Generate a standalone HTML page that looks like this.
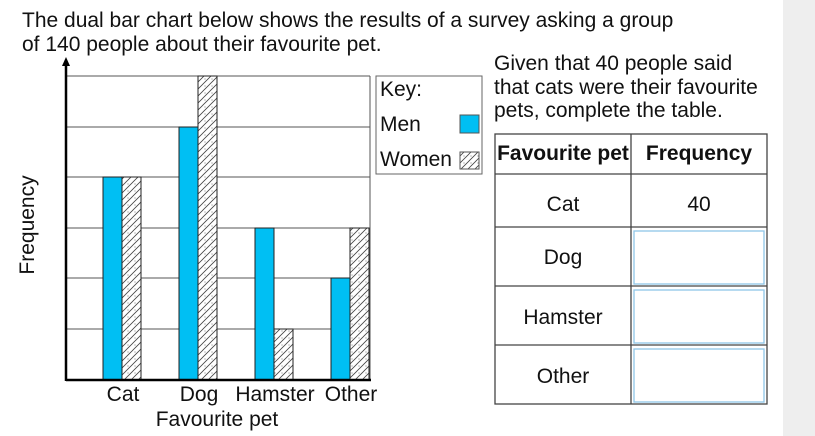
<!DOCTYPE html>
<html><head><meta charset="utf-8"><style>
html,body{margin:0;padding:0;background:#fff;}
svg{display:block;font-family:"Liberation Sans",Arial,sans-serif;}
</style></head><body>
<svg width="815" height="436" viewBox="0 0 815 436" xmlns="http://www.w3.org/2000/svg">
<defs>
<pattern id="h" width="7" height="7" patternUnits="userSpaceOnUse">
<rect width="7" height="7" fill="#fff"/>
<path d="M-1,8 L8,-1 M-1,1 L1,-1 M6,8 L8,6" stroke="#444" stroke-width="0.8"/>
<circle cx="2" cy="2" r="0.5" fill="#555"/>
</pattern>
</defs>
<rect x="783" y="0" width="32" height="436" fill="#eeeeee"/>
<text x="22" y="27" font-size="21" fill="#111">The dual bar chart below shows the results of a survey asking a group</text>
<text x="22" y="51" font-size="21" fill="#111">of 140 people about their favourite pet.</text>
<g stroke="#555" stroke-width="1">
<line x1="66" y1="76" x2="370" y2="76"/>
<line x1="66" y1="127" x2="370" y2="127"/>
<line x1="66" y1="177" x2="370" y2="177"/>
<line x1="66" y1="228" x2="370" y2="228"/>
<line x1="66" y1="278" x2="370" y2="278"/>
<line x1="66" y1="329" x2="370" y2="329"/>
<line x1="370" y1="76" x2="370" y2="380"/>
</g>
<g stroke="#222" stroke-width="1">
<rect x="103" y="177" width="19" height="203" fill="#00bff3"/>
<rect x="122" y="177" width="19" height="203" fill="url(#h)"/>
<rect x="179" y="127" width="19" height="253" fill="#00bff3"/>
<rect x="198" y="76" width="19" height="304" fill="url(#h)"/>
<rect x="255" y="228" width="19" height="152" fill="#00bff3"/>
<rect x="274" y="329" width="19" height="51" fill="url(#h)"/>
<rect x="331" y="278" width="19" height="102" fill="#00bff3"/>
<rect x="350" y="228" width="19" height="152" fill="url(#h)"/>
</g>
<line x1="66" y1="380" x2="371" y2="380" stroke="#000" stroke-width="2.5"/>
<line x1="66" y1="64" x2="66" y2="381" stroke="#000" stroke-width="2.5"/>
<polygon points="66,57 62,66 70,66" fill="#000"/>
<g font-size="21" fill="#111" text-anchor="middle">
<text x="123" y="401">Cat</text>
<text x="199" y="401">Dog</text>
<text x="275" y="401">Hamster</text>
<text x="351" y="401">Other</text>
<text x="217" y="426">Favourite pet</text>
<text transform="translate(34,225) rotate(-90)">Frequency</text>
</g>
<rect x="376" y="76" width="106" height="98" fill="#fff" stroke="#666"/>
<g font-size="21" fill="#111">
<text x="380" y="96">Key:</text>
<text x="380" y="131">Men</text>
<text x="380" y="166">Women</text>
</g>
<rect x="460" y="115" width="19" height="18" fill="#00bff3" stroke="#555"/>
<rect x="460" y="152" width="19" height="17" fill="url(#h)" stroke="#555"/>
<g font-size="21" fill="#111">
<text x="494" y="70">Given that 40 people said</text>
<text x="494" y="94">that cats were their favourite</text>
<text x="494" y="117">pets, complete the table.</text>
</g>
<g stroke="#444" stroke-width="1.3" fill="none">
<rect x="495" y="134" width="272" height="270"/>
<line x1="631" y1="134" x2="631" y2="404"/>
<line x1="495" y1="174" x2="767" y2="174"/>
<line x1="495" y1="227" x2="767" y2="227"/>
<line x1="495" y1="286" x2="767" y2="286"/>
<line x1="495" y1="345" x2="767" y2="345"/>
</g>
<g stroke="#8fc6e8" stroke-width="1.3" fill="#fff">
<rect x="634" y="231" width="130" height="53"/>
<rect x="634" y="290" width="130" height="53"/>
<rect x="634" y="349" width="130" height="53"/>
</g>
<g font-size="21" fill="#111" text-anchor="middle">
<text x="563" y="160" font-weight="bold">Favourite pet</text>
<text x="699" y="160" font-weight="bold">Frequency</text>
<text x="563" y="211">Cat</text>
<text x="699" y="211">40</text>
<text x="563" y="264">Dog</text>
<text x="563" y="324">Hamster</text>
<text x="563" y="383">Other</text>
</g>
</svg>
</body></html>
